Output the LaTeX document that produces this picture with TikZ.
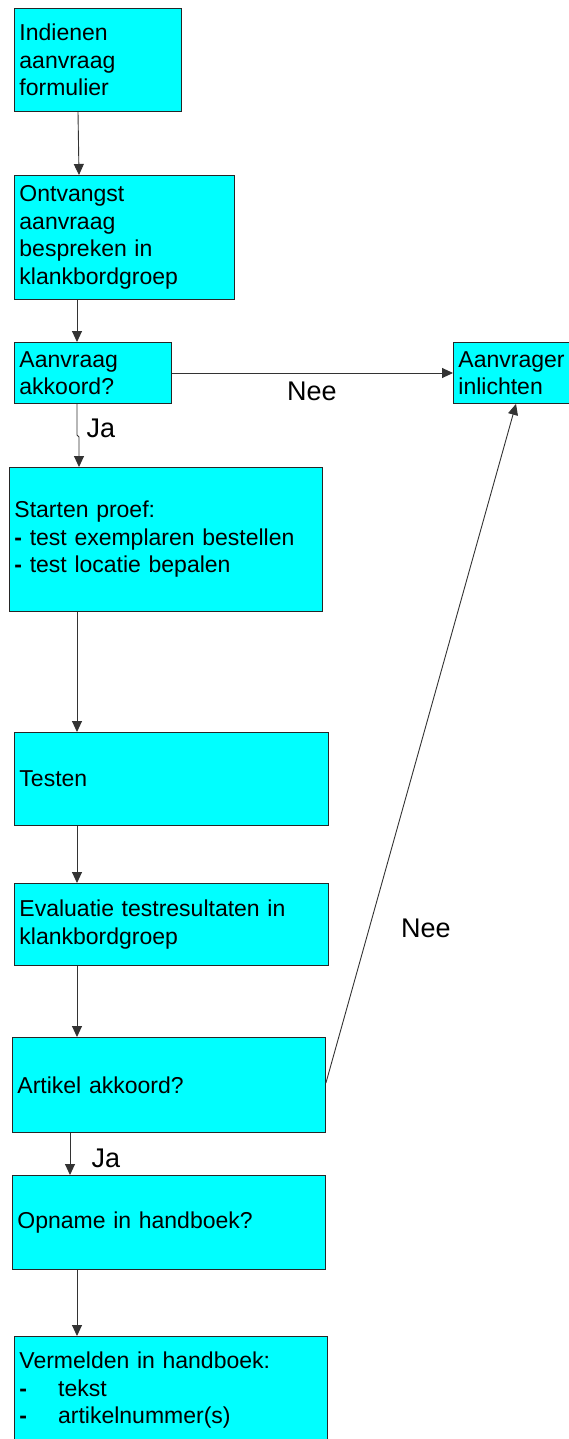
\documentclass[tikz,border=0pt]{standalone}
\usepackage{fontspec}
\setmainfont{Liberation Sans}
\usetikzlibrary{arrows.meta}
\definecolor{boxfill}{RGB}{0,255,255}
\tikzset{
  box/.style={draw=black!85, line width=0.9pt, fill=boxfill, anchor=north west, align=left,
    inner xsep=5pt, inner ysep=0pt, font=\fontsize{23}{27.5}\selectfont},
  arr/.style={draw=black!80, line width=0.9pt, -{Triangle[length=11pt,width=10pt]}},
  lbl/.style={font=\fontsize{27}{30}\selectfont, inner sep=0pt}
}
\begin{document}
\begin{tikzpicture}[x=1pt,y=-1pt]
\fill[white] (0,0) rectangle (569,1439);
\useasboundingbox (0,0) rectangle (569,1439);
\node[box, text width=157pt, minimum height=103pt] (b1) at (14,8) {Indienen\\aanvraag\\formulier};
\node[box, text width=210pt, minimum height=124pt] (b2) at (14,175) {Ontvangst\\aanvraag\\bespreken in\\klankbordgroep};
\node[box, text width=147pt, minimum height=61pt] (b3) at (14,342) {Aanvraag\\akkoord?};
\node[box, text width=108pt, minimum height=61pt] (b4) at (453,342) {Aanvrager\\inlichten};
\node[box, text width=303pt, minimum height=144pt] (b5) at (9,467) {Starten proef:\\\textbf{-} test exemplaren bestellen\\\textbf{-} test locatie bepalen};
\node[box, text width=304pt, minimum height=93pt] (b6) at (14,732) {Testen};
\node[box, text width=304pt, minimum height=82pt] (b7) at (14,883) {Evaluatie testresultaten in\\klankbordgroep};
\node[box, text width=303pt, minimum height=95pt] (b8) at (12,1037) {Artikel akkoord?};
\node[box, text width=303pt, minimum height=94pt] (b9) at (12,1175) {Opname in handboek?};
\node[box, text width=303pt, minimum height=108pt] (b10) at (14,1336) {Vermelden in handboek:\\\textbf{-}\hspace{31pt}tekst\\\textbf{-}\hspace{31pt}artikelnummer(s)};
\coordinate (jog1) at (77,435);
\coordinate (jog2) at (79,437);
\draw[arr] (b1.south -| 78,0) -- (b2.north -| 79,0);
\draw[arr] (b2.south -| 77,0) -- (b3.north -| 77,0);
\draw[arr] (b3.east |- 0,373) -- (b4.west |- 0,373);
\draw[arr] (b3.south -| 77,0) -- (jog1) -- (jog2) -- (b5.north -| 79,0);
\draw[arr] (b5.south -| 77,0) -- (b6.north -| 77,0);
\draw[arr] (b6.south -| 77,0) -- (b7.north -| 77,0);
\draw[arr] (b7.south -| 77,0) -- (b8.north -| 77,0);
\draw[arr] (b8.east |- 0,1083) -- (b4.south -| 516,0);
\draw[arr] (b8.south -| 70,0) -- (b9.north -| 70,0);
\draw[arr] (b9.south -| 77,0) -- (b10.north -| 77,0);
\node[lbl] (nee1) at (312,391) {Nee};
\node[lbl] (ja1) at (101,428) {Ja};
\node[lbl] (nee2) at (426,928) {Nee};
\node[lbl] (ja2) at (106,1158) {Ja};
\end{tikzpicture}
\end{document}
